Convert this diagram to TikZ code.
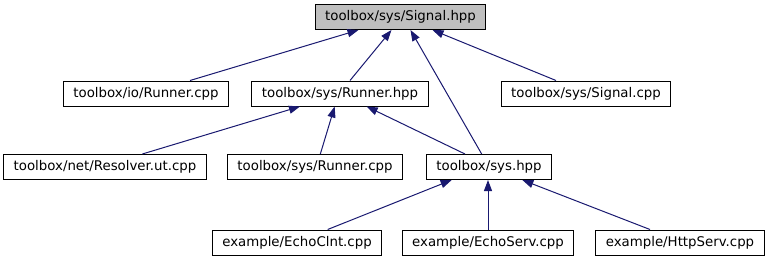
\documentclass[tikz,border=0pt]{standalone}
\usepackage{fontspec}
\setmainfont{DejaVu Sans}
\usepackage{tikz}
\usetikzlibrary{arrows.meta}
\definecolor{edgeblue}{HTML}{191970}
\tikzstyle{filebox} = [draw=black, line width=0.75pt, rectangle, inner xsep=7.5pt, inner ysep=0pt, minimum height=18.75pt, fill=white]
\tikzstyle{mainbox} = [filebox, fill=black!25]
\tikzstyle{dep} = [draw=edgeblue, line width=0.75pt, -{Triangle[length=8.25pt,width=6pt]}]

\begin{document}
\begin{tikzpicture}[x=0.75pt, y=-0.75pt]
    \useasboundingbox (0,0) rectangle (770,261);

    %header
    \node [mainbox] (sig) at (400.5,17) {toolbox/sys/Signal.hpp};

    %first level
    \node [filebox] (iorun)  at (146,93.5) {toolbox/io/Runner.cpp};
    \node [filebox] (runhpp) at (340,93.5) {toolbox/sys/Runner.hpp};
    \node [filebox] (sigcpp) at (586,93.5) {toolbox/sys/Signal.cpp};

    %second level
    \node [filebox] (resolv) at (105,167) {toolbox/net/Resolver.ut.cpp};
    \node [filebox] (runcpp) at (315,167) {toolbox/sys/Runner.cpp};
    \node [filebox] (syshpp) at (489,167) {toolbox/sys.hpp};

    %examples
    \node [filebox] (clnt) at (297,242.5) {example/EchoClnt.cpp};
    \node [filebox] (serv) at (488,242.5) {example/EchoServ.cpp};
    \node [filebox] (http) at (680,242.5) {example/HttpServ.cpp};

    \draw [dep] ([xshift=33pt]iorun.north) -- ([xshift=-31.5pt]sig.south);
    \draw [dep] ([xshift=7.5pt]runhpp.north) -- ([xshift=-6.75pt]sig.south);
    \draw [dep] ([xshift=-5.5pt]syshpp.north) -- ([xshift=7.5pt]sig.south);
    \draw [dep] ([xshift=-22.5pt]sigcpp.north) -- ([xshift=24pt]sig.south);

    \draw [dep] ([xshift=28pt]resolv.north) -- ([xshift=-30pt]runhpp.south);
    \draw [dep] ([xshift=4pt]runcpp.north) -- ([xshift=-4pt]runhpp.south);
    \draw [dep] ([xshift=-18pt]syshpp.north) -- ([xshift=20pt]runhpp.south);

    \draw [dep] ([xshift=23pt]clnt.north) -- ([xshift=-28pt]syshpp.south);
    \draw [dep] (serv.north) -- (serv.north |- syshpp.south);
    \draw [dep] ([xshift=-22.5pt]http.north) -- ([xshift=25pt]syshpp.south);
\end{tikzpicture}
\end{document}
